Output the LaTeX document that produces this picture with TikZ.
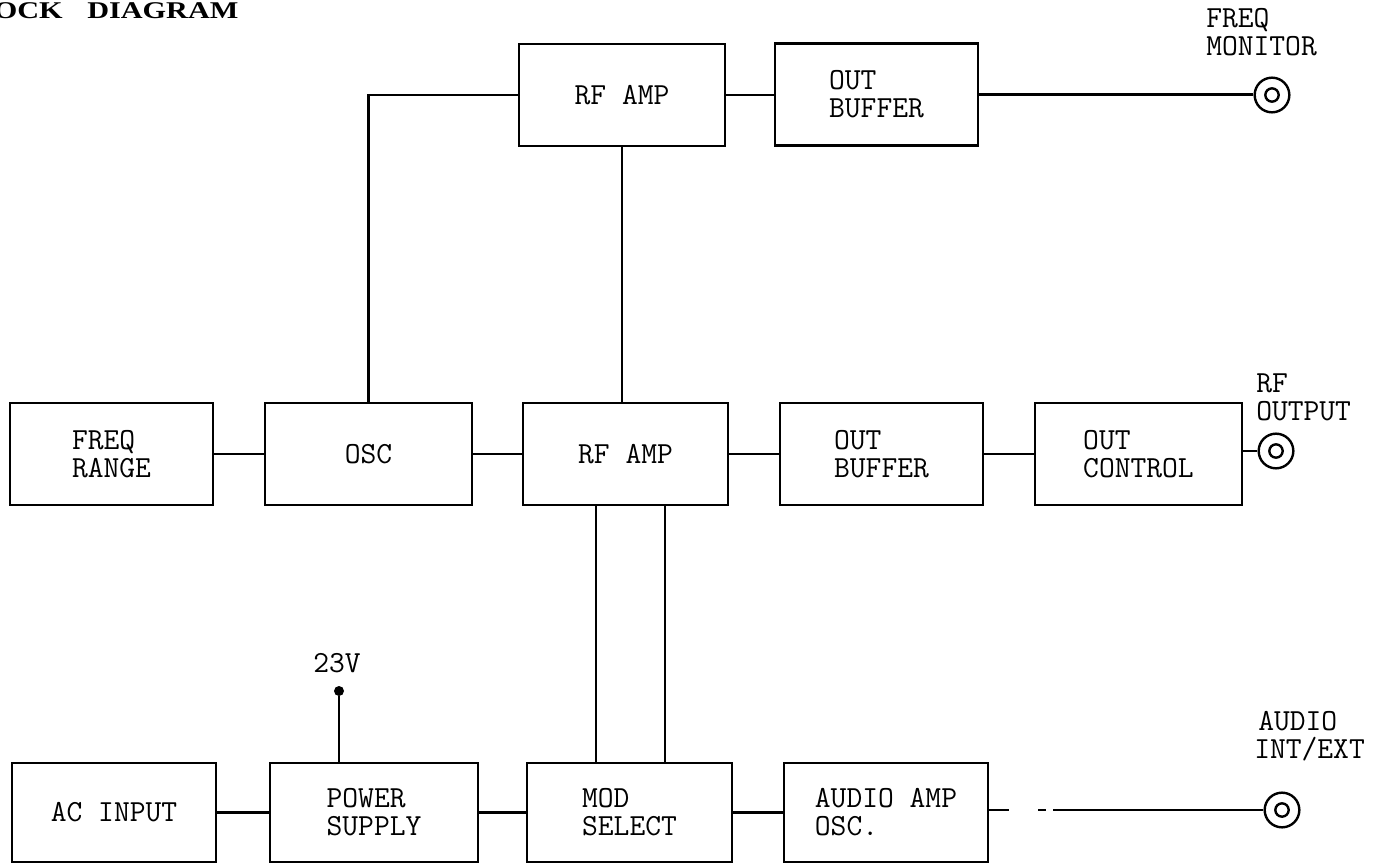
\documentclass[tikz,border=0pt]{standalone}
\usepackage{fontspec}
\newfontfamily\titlefont{Liberation Serif}
\usetikzlibrary{calc}
\begin{document}
\begin{tikzpicture}[x=0.75pt,y=-0.75pt,
  txt/.style={font=\fontsize{23}{21}\selectfont\ttfamily},
  box/.style={txt, draw, line width=1.8pt, inner sep=0pt, align=left, minimum height=76.5pt},
  wire/.style={line width=1.8pt},
  jack/.style={circle, draw, line width=1.8pt, minimum size=26pt, inner sep=0pt,
    path picture={\draw[line width=1.8pt] (path picture bounding box.center) circle (5pt);}},
  lbl/.style={txt, align=left, inner sep=0pt, anchor=base west},
  ttl/.style={font=\titlefont\bfseries\fontsize{18}{18}\selectfont, inner sep=0pt}
]
\useasboundingbox (0,0) rectangle (1375,864);

% title
\node[ttl, anchor=base east] (t1) at (63,18) {\scalebox{1.26}[1]{BLOCK}};
\node[ttl, anchor=base west] (t2) at (87,18) {\scalebox{1.26}[1]{DIAGRAM}};

% top row
\node[box, minimum width=154.5pt] (rftop) at (622,95) {RF AMP};
\node[box, minimum width=152.25pt] (obtop) at (876.5,94.5) {OUT\\BUFFER};

% middle row
\node[box, minimum width=152.25pt] (fr) at (111.5,454) {FREQ\\RANGE};
\node[box, minimum width=155.25pt] (osc) at (368.5,454) {OSC};
\node[box, minimum width=153.75pt] (rfmid) at (625.5,454) {RF AMP};
\node[box, minimum width=152.25pt] (obmid) at (881.5,454) {OUT\\BUFFER};
\node[box, minimum width=155.25pt] (oc) at (1138.5,454) {OUT\\CONTROL};

% bottom row
\node[box, minimum width=153pt, minimum height=74.25pt] (ac) at (114,812.5) {AC INPUT};
\node[box, minimum width=156pt, minimum height=74.25pt] (ps) at (374,812.5) {POWER\\SUPPLY};
\node[box, minimum width=153.75pt, minimum height=74.25pt] (mod) at (629.5,812.5) {MOD\\SELECT};
\node[box, minimum width=153pt, minimum height=74.25pt] (aud) at (886,812.5) {AUDIO AMP\\OSC.};

% jacks
\node[jack] (j1) at (1272,95) {};
\node[jack] (j2) at (1276,451) {};
\node[jack] (j3) at (1282,810) {};

% jack labels (anchored at the last line's baseline)
\node[lbl] (l1) at (1206,55) {FREQ\\MONITOR};
\node[lbl] (l2) at (1256,420) {RF\\OUTPUT};
\node[lbl] (l3) at (1254,758) {\hspace{3pt}AUDIO\\INT/EXT};

% 23V
\node[circle, fill, inner sep=0pt, minimum size=7.5pt] (dot) at (339,691) {};
\node[txt, inner sep=0pt, anchor=base] (v23) at (337,672) {23V};

% helper coordinates
\coordinate (va) at (596,0);
\coordinate (vb) at (665,0);

% connectors
\draw[wire] (osc.north) |- (rftop.west);
\draw[wire] (rftop.south) -- (rftop.south |- rfmid.north);
\draw[wire] (rftop.east) -- (rftop.east -| obtop.west);
\draw[wire] (obtop.east) -- (obtop.east -| j1.west);
\draw[wire] (fr.east) -- (osc.west);
\draw[wire] (osc.east) -- (rfmid.west);
\draw[wire] (rfmid.east) -- (obmid.west);
\draw[wire] (obmid.east) -- (oc.west);
\draw[wire] (oc.east |- j2.west) -- (j2.west);
\draw[wire] (rfmid.south -| va) -- (mod.north -| va);
\draw[wire] (rfmid.south -| vb) -- (mod.north -| vb);
\draw[wire] (ac.east) -- (ps.west);
\draw[wire] (ps.east) -- (mod.west);
\draw[wire] (mod.east) -- (aud.west);
\draw[wire, dash pattern=on 15pt off 21.75pt on 6pt off 5.25pt on 400pt] (aud.east |- j3.west) -- (j3.west);
\draw[wire] (ps.north -| dot) -- (dot);
\end{tikzpicture}
\end{document}
